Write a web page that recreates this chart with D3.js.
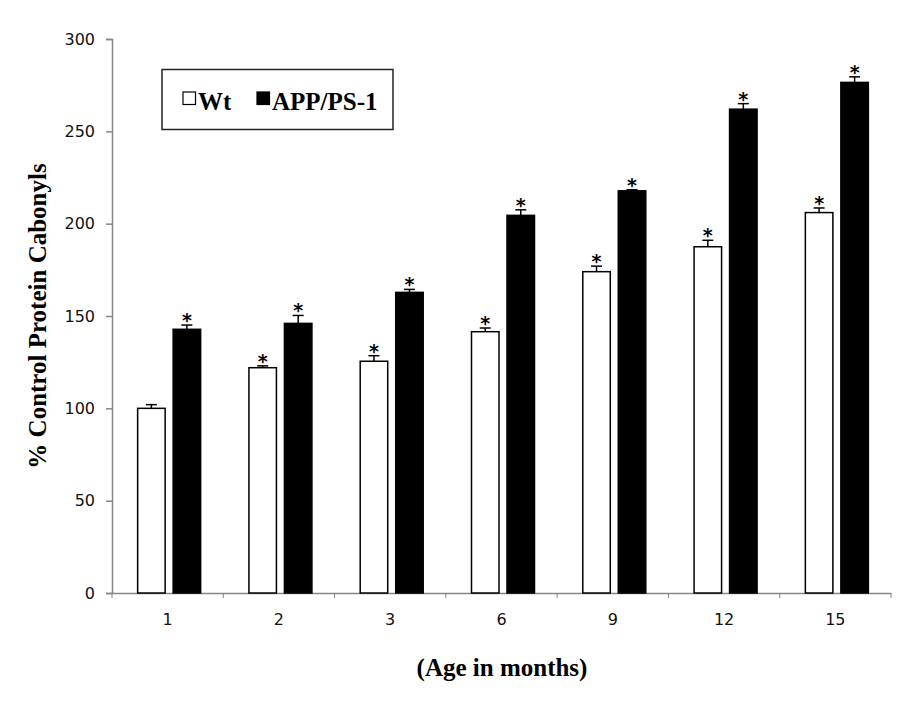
<!DOCTYPE html>
<html>
<head>
<meta charset="utf-8">
<script src="https://cdn.jsdelivr.net/npm/d3@7"></script>
<style>
  body { margin: 0; background: #fff; }
  svg { display: block; }
</style>
</head>
<body>
<div id="chart"></div>
<script>
// chart data
var ages = ["1", "2", "3", "6", "9", "12", "15"];
var wtValues = [100, 122, 125.5, 141.5, 174, 187.5, 206];
var wtErrors = [2, 1, 3, 2, 3, 3.5, 2.5];
var wtStars = [false, true, true, true, true, true, true];
var appValues = [142.8, 146, 162.8, 204.5, 217.8, 262, 276.5];
var appErrors = [2.3, 4.3, 1.6, 3, 0.6, 3, 3];
var appStars = [true, true, true, true, true, true, true];
var seriesNames = ["Wt", "APP/PS-1"];
var yTicks = [0, 50, 100, 150, 200, 250, 300];

var W = 919, H = 703;
var margin = {top: 39, right: 28, bottom: 110, left: 112},
    width = W - margin.left - margin.right,
    height = H - margin.top - margin.bottom;

var svg = d3.select("#chart")
  .append("svg")
    .attr("width", W)
    .attr("height", H)
  .append("g")
    .attr("transform", "translate(" + margin.left + "," + margin.top + ")");

var xScale = d3.scaleBand()
  .domain(ages)
  .range([0, width]);

var yScale = d3.scaleLinear()
  .domain([0, 300])
  .range([height, 0]);

var axisColor = "#868686";
var serif = "'Liberation Serif', 'Times New Roman', serif";
var sans = "'DejaVu Sans', Verdana, sans-serif";

// y axis
var yAxis = svg.append("g")
  .call(d3.axisLeft(yScale).tickValues(yTicks).tickSize(6).tickPadding(11));
yAxis.select(".domain").attr("stroke", axisColor).attr("stroke-width", 1.5);
yAxis.selectAll(".tick line").attr("stroke", axisColor).attr("stroke-width", 1.5);
yAxis.selectAll(".tick text")
  .attr("fill", "#111")
  .style("font-family", sans)
  .style("font-size", "16px");

// x axis
var xAxis = svg.append("g")
  .attr("transform", "translate(0," + height + ")")
  .call(d3.axisBottom(xScale).tickSize(0).tickPadding(21));
xAxis.select(".domain").attr("stroke", axisColor).attr("stroke-width", 1.5);
xAxis.selectAll(".tick text")
  .attr("fill", "#111")
  .style("font-family", sans)
  .style("font-size", "16px");

// category boundary ticks
svg.append("g")
  .selectAll("line")
  .data(d3.range(ages.length + 1))
  .enter().append("line")
    .attr("x1", function(d) { return d * xScale.bandwidth(); })
    .attr("x2", function(d) { return d * xScale.bandwidth(); })
    .attr("y1", height)
    .attr("y2", height + 5)
    .attr("stroke", axisColor)
    .attr("stroke-width", 1);

var barW = 27.5;
var offsets = [-30, 5.5];

function drawSeries(values, errors, stars, fill, k) {
  var g = svg.append("g");
  var cx = function(i) { return xScale(ages[i]) + xScale.bandwidth() / 2 + offsets[k]; };

  g.selectAll("rect")
    .data(values)
    .enter().append("rect")
      .attr("x", function(d, i) { return cx(i); })
      .attr("y", function(d) { return yScale(d); })
      .attr("width", barW)
      .attr("height", function(d) { return height - yScale(d); })
      .attr("fill", fill)
      .attr("stroke", "#000")
      .attr("stroke-width", 1.5);

  // error bars (upper only)
  g.selectAll("line.err")
    .data(values)
    .enter().append("line")
      .attr("class", "err")
      .attr("x1", function(d, i) { return cx(i) + barW / 2; })
      .attr("x2", function(d, i) { return cx(i) + barW / 2; })
      .attr("y1", function(d) { return yScale(d); })
      .attr("y2", function(d, i) { return yScale(d + errors[i]); })
      .attr("stroke", "#000")
      .attr("stroke-width", 1.5);

  g.selectAll("line.cap")
    .data(values)
    .enter().append("line")
      .attr("class", "cap")
      .attr("x1", function(d, i) { return cx(i) + barW / 2 - 5.5; })
      .attr("x2", function(d, i) { return cx(i) + barW / 2 + 5.5; })
      .attr("y1", function(d, i) { return yScale(d + errors[i]); })
      .attr("y2", function(d, i) { return yScale(d + errors[i]); })
      .attr("stroke", "#000")
      .attr("stroke-width", 1.5);

  // significance stars
  g.selectAll("text.star")
    .data(values)
    .enter().append("text")
      .attr("class", "star")
      .attr("x", function(d, i) { return cx(i) + barW / 2; })
      .attr("y", function(d, i) { return yScale(d + errors[i]) + 2; })
      .attr("text-anchor", "middle")
      .style("display", function(d, i) { return stars[i] ? null : "none"; })
      .style("font-family", sans)
      .style("font-weight", "bold")
      .style("font-size", "19px")
      .text("*");
}

drawSeries(wtValues, wtErrors, wtStars, "#fff", 0);
drawSeries(appValues, appErrors, appStars, "#000", 1);

// axis titles
svg.append("text")
  .attr("transform", "rotate(-90)")
  .attr("x", -(316 - margin.top))
  .attr("y", -margin.left + 46)
  .attr("text-anchor", "middle")
  .style("font-family", serif)
  .style("font-weight", "bold")
  .style("font-size", "25px")
  .text("% Control Protein Cabonyls");

svg.append("text")
  .attr("x", 502 - margin.left)
  .attr("y", height + 83)
  .attr("text-anchor", "middle")
  .style("font-family", serif)
  .style("font-weight", "bold")
  .style("font-size", "25px")
  .text("(Age in months)");

// legend
var legend = svg.append("g")
  .attr("transform", "translate(" + (162 - margin.left) + "," + (69.5 - margin.top) + ")");

legend.append("rect")
  .attr("width", 231)
  .attr("height", 60)
  .attr("fill", "#fff")
  .attr("stroke", "#222")
  .attr("stroke-width", 1.5);

var legX = [21, 95];
var legFill = ["#fff", "#000"];
seriesNames.forEach(function(name, i) {
  legend.append("rect")
    .attr("x", legX[i])
    .attr("y", 22.5)
    .attr("width", 12.5)
    .attr("height", 12.5)
    .attr("fill", legFill[i])
    .attr("stroke", "#000")
    .attr("stroke-width", 1.2);
  legend.append("text")
    .attr("x", legX[i] + 15)
    .attr("y", 40)
    .style("font-family", serif)
    .style("font-weight", "bold")
    .style("font-size", "25px")
    .text(name);
});
</script>
</body>
</html>
